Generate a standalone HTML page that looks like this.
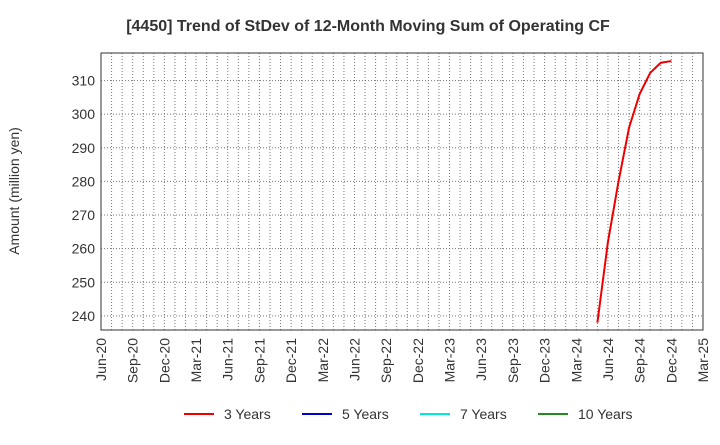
<!DOCTYPE html>
<html><head><meta charset="utf-8"><style>
body{margin:0;background:#fff;font-family:"Liberation Sans",sans-serif;}
</style></head><body>
<svg id="chart" width="720" height="440" xmlns="http://www.w3.org/2000/svg">
<text x="368" y="31" text-anchor="middle" font-size="16" font-weight="bold" fill="#333">[4450]  Trend of StDev of 12-Month Moving Sum of Operating CF</text>
<text transform="translate(19,191) rotate(-90)" text-anchor="middle" font-size="14" fill="#333">Amount (million yen)</text>
<g id="grid"></g><g id="axes"></g><g id="series"></g>
<g font-size="14" fill="#333">
<g><line x1="184" y1="414" x2="214" y2="414" stroke="#ee0000" stroke-width="2"/><text x="224" y="419">3 Years</text></g>
<g><line x1="302" y1="414" x2="332" y2="414" stroke="#0000cc" stroke-width="2"/><text x="342" y="419">5 Years</text></g>
<g><line x1="420" y1="414" x2="450" y2="414" stroke="#00e5e5" stroke-width="2"/><text x="460" y="419">7 Years</text></g>
<g><line x1="538" y1="414" x2="568" y2="414" stroke="#228b22" stroke-width="2"/><text x="578" y="419">10 Years</text></g>
</g>
</svg>
<script>
const xTickLabels=["Jun-20","Sep-20","Dec-20","Mar-21","Jun-21","Sep-21","Dec-21","Mar-22","Jun-22","Sep-22","Dec-22","Mar-23","Jun-23","Sep-23","Dec-23","Mar-24","Jun-24","Sep-24","Dec-24","Mar-25"];
const yTicks=[240,250,260,270,280,290,300,310];
const seriesMonths=[47,48,49,50,51,52,53,54];
const series3y=[238,262,280,296,306,312.3,315.3,315.8];
const L=101,R=703,T=53,B=330,NM=57,YMIN=235.8,YMAX=318.2;
const NS="http://www.w3.org/2000/svg";
const xs=m=>L+(R-L)*m/NM, ys=v=>B-(B-T)*(v-YMIN)/(YMAX-YMIN);
function mk(t,a,p){const e=document.createElementNS(NS,t);for(const k in a)e.setAttribute(k,a[k]);p.appendChild(e);return e;}
const grid=document.getElementById('grid'),axes=document.getElementById('axes'),ser=document.getElementById('series');
for(let m=1;m<NM;m++){const g=mk('line',{x1:xs(m),x2:xs(m),y1:T,y2:B,stroke:'#777','stroke-dasharray':'1,2'},grid);

}
yTicks.forEach(v=>{const g=mk('line',{x1:L,x2:R,y1:ys(v),y2:ys(v),stroke:'#777','stroke-dasharray':'1,2'},grid);


const t=mk('text',{x:L-6,y:ys(v)+5,'text-anchor':'end','font-size':14,fill:'#333'},axes);t.textContent=v;

});
xTickLabels.forEach((s,i)=>{const x=xs(i*3);const t=mk('text',{transform:`translate(${x+5},${B+8}) rotate(-90)`,'text-anchor':'end','font-size':14,fill:'#333'},axes);t.textContent=s;

});
const fr=mk('rect',{x:L,y:T,width:R-L,height:B-T,fill:'none',stroke:'#333'},axes);


const pl=mk('polyline',{points:seriesMonths.map((m,i)=>xs(m)+','+ys(series3y[i])).join(' '),fill:'none',stroke:'#ee0000','stroke-width':2},ser);


</script>
</body></html>
